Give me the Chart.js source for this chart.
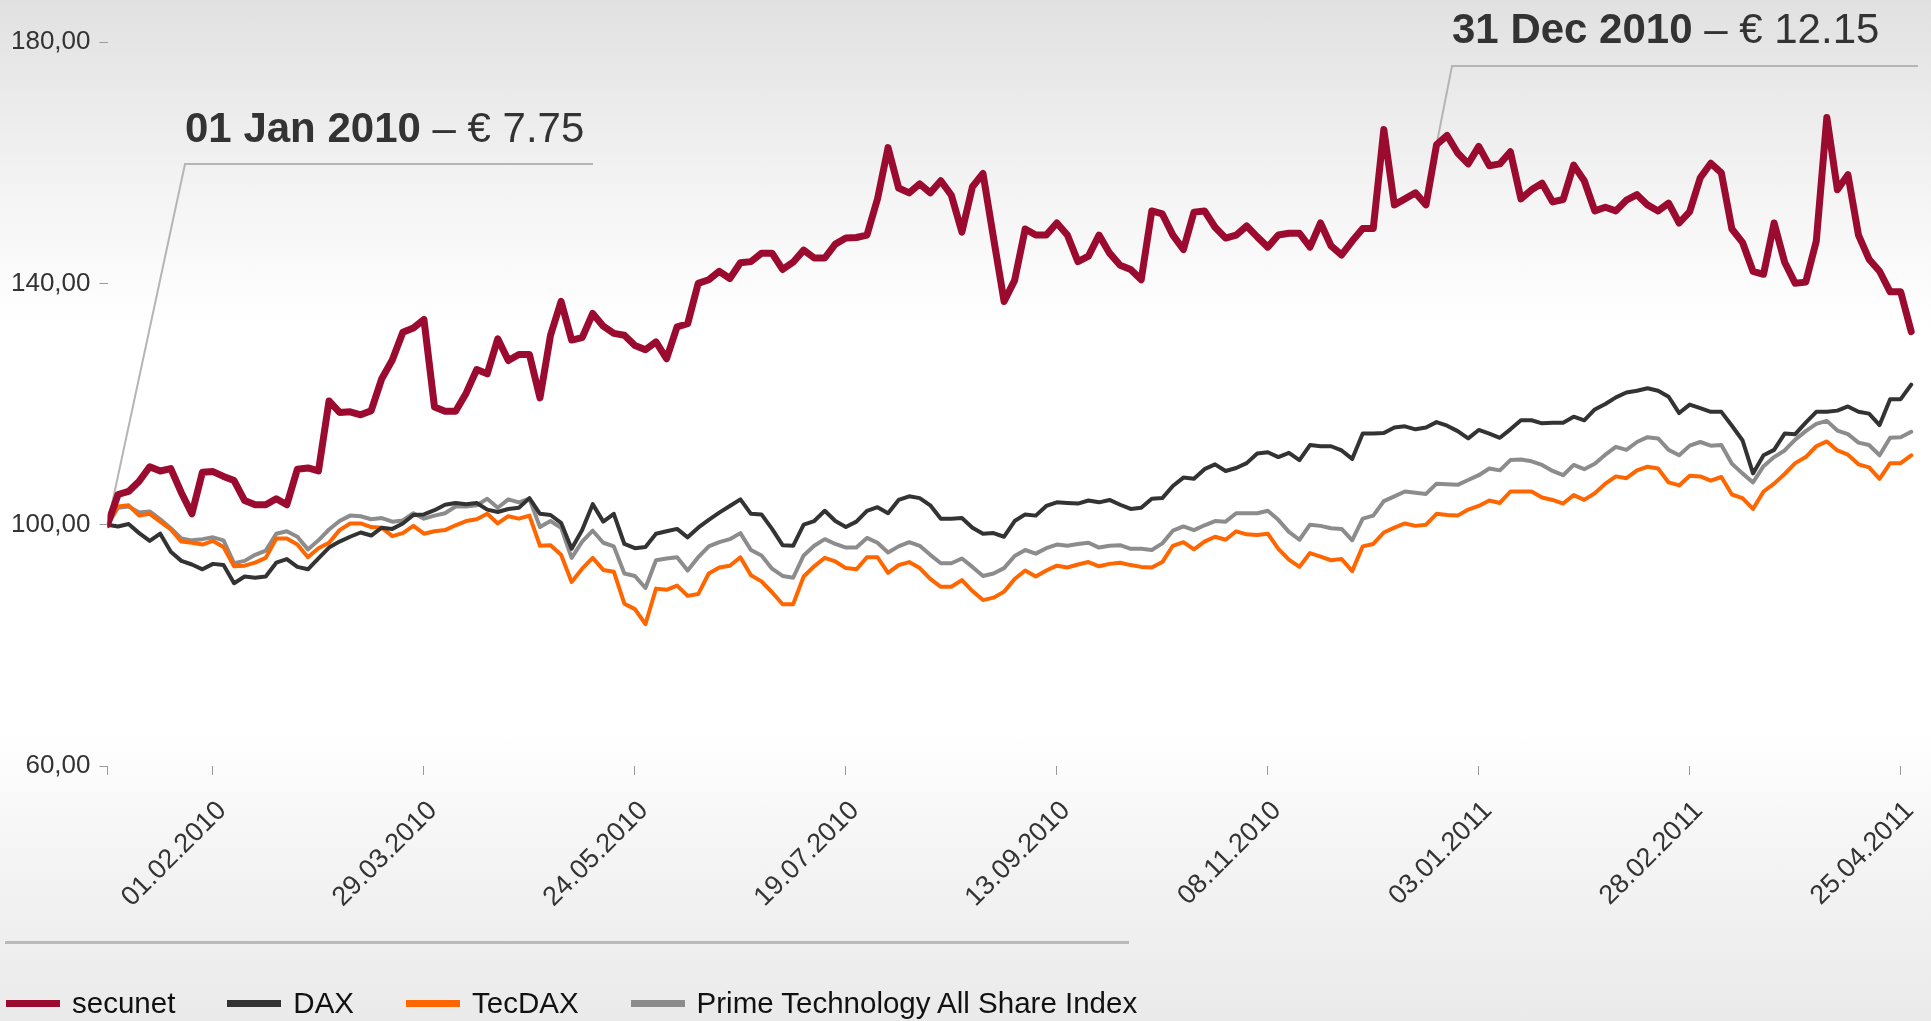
<!DOCTYPE html>
<html>
<head>
<meta charset="utf-8">
<title>secunet vs. DAX / TecDAX / Prime Technology</title>
<script src="https://cdn.jsdelivr.net/npm/chart.js@4.4.1/dist/chart.umd.min.js"></script>
<style>
  html, body { margin: 0; padding: 0; }
  body {
    width: 1931px; height: 1021px; overflow: hidden; position: relative;
    background: linear-gradient(to bottom, #e1e1e1 0%, #e7e7e7 6%, #f5f5f5 20%, #ffffff 32%, #ffffff 72%, #f4f4f4 84%, #eaeaea 100%);
    font-family: "Liberation Sans", Arial, sans-serif;
  }
  #wrap { position: absolute; left: 0; top: 0; width: 1931px; height: 1021px; }
  #rule { position: absolute; left: 5px; top: 941px; width: 1124px; height: 3px; background: #b9b9b9; }
  #legend { position: absolute; left: 6px; top: 983px; height: 40px; display: flex; align-items: center; }
  .item { display: flex; align-items: center; margin-right: 52px; font-size: 29.5px; color: #111; }
  .swatch { width: 54px; height: 7px; margin-right: 12px; }
</style>
</head>
<body>
<div id="wrap"><canvas id="perf-chart"></canvas></div>
<div id="rule"></div>
<div id="legend"></div>
<script>
// trading days counted from 01.01.2010, one value every second trading day
const firstDay = 1;
const dayStep = 2;

const tickDays = [21, 61, 101, 141, 181, 221, 261, 301, 341];
const tickLabels = ['01.02.2010', '29.03.2010', '24.05.2010', '19.07.2010', '13.09.2010',
  '08.11.2010', '03.01.2011', '28.02.2011', '25.04.2011'];

const yTicks = [60, 100, 140, 180];

const seriesNames = ['secunet', 'DAX', 'TecDAX', 'Prime Technology All Share Index'];

const secunet = [
  100, 105.0, 105.5, 107.2, 109.6, 108.9, 109.3, 105.3, 101.8, 108.7,
  108.8, 108.0, 107.3, 104.0, 103.3, 103.3, 104.3, 103.3, 109.2, 109.4,
  108.9, 120.5, 118.6, 118.7, 118.2, 118.9, 124.2, 127.3, 131.9, 132.6,
  134.0, 119.5, 118.8, 118.8, 121.8, 125.7, 125.0, 130.8, 127.2, 128.2,
  128.2, 121.0, 131.4, 137.0, 130.6, 131.0, 135.0, 132.9, 131.7, 131.4,
  129.7, 129.0, 130.3, 127.5, 132.8, 133.3, 140.0, 140.6, 142.0, 140.8,
  143.4, 143.6, 145.0, 145.0, 142.3, 143.5, 145.5, 144.2, 144.2, 146.5,
  147.5, 147.6, 148.0, 154.0, 162.5, 155.8, 155.0, 156.5, 155.0, 157.0,
  154.6, 148.5, 156.0, 158.2, 147.5, 137.0, 140.5, 149.0, 148.0, 148.0,
  150.0, 148.0, 143.6, 144.5, 148.0, 145.0, 143.0, 142.3, 140.6, 152.0,
  151.5, 148.0, 145.6, 151.8, 152.0, 149.3, 147.5, 148.0, 149.5, 147.7,
  146.0, 148.0, 148.3, 148.3, 146.0, 150.0, 146.2, 144.7, 147.0, 149.1,
  149.1, 165.5, 153.0, 154.0, 155.0, 153.0, 163.0, 164.5, 161.6, 159.8,
  162.7, 159.5, 159.8, 161.8, 154.0, 155.5, 156.6, 153.5, 153.9, 159.6,
  157.0, 152.0, 152.6, 152.0, 153.8, 154.7, 153.0, 152.0, 153.3, 150.0,
  151.9, 157.5, 159.9, 158.3, 149.0, 146.8, 142.0, 141.5, 150.0, 143.5,
  140.0, 140.2, 147.0, 167.5, 155.5, 158.0, 148.0, 144.0, 142.0, 138.6,
  138.6, 132.0
];

const dax = [
  100, 99.7, 100.1, 98.6, 97.3, 98.5, 95.5, 94.0, 93.4, 92.6,
  93.5, 93.3, 90.3, 91.4, 91.2, 91.4, 93.7, 94.3, 93.0, 92.6,
  94.4, 96.2, 97.2, 98.0, 98.7, 98.2, 99.5, 99.3, 100.2, 101.6,
  101.7, 102.4, 103.3, 103.6, 103.4, 103.6, 102.5, 102.1, 102.6, 102.8,
  104.4, 101.8, 101.6, 100.3, 96.0, 99.1, 103.4, 100.5, 101.8, 96.8,
  96.1, 96.3, 98.5, 98.9, 99.3, 97.9, 99.5, 100.8, 102.0, 103.1,
  104.2, 101.8, 101.7, 99.3, 96.6, 96.5, 100.0, 100.6, 102.3, 100.6,
  99.6, 100.5, 102.3, 102.9, 101.9, 104.1, 104.7, 104.4, 103.2, 101.0,
  101.0, 101.1, 99.5, 98.5, 98.6, 98.0, 100.6, 101.7, 101.5, 103.1,
  103.7, 103.6, 103.5, 104.0, 103.7, 104.1, 103.3, 102.6, 102.8, 104.3,
  104.4, 106.4, 107.8, 107.6, 109.2, 110.0, 108.9, 109.4, 110.2, 111.8,
  112.0, 111.2, 111.9, 110.7, 113.2, 113.0, 113.0, 112.3, 110.9, 115.1,
  115.1, 115.2, 116.1, 116.3, 115.8, 116.1, 117.0, 116.4, 115.5, 114.3,
  115.7, 115.1, 114.4, 115.8, 117.3, 117.3, 116.8, 116.9, 116.9, 117.9,
  117.3, 119.1, 120.0, 121.1, 121.9, 122.2, 122.6, 122.2, 121.2, 118.5,
  119.9, 119.3, 118.7, 118.7, 116.4, 114.0, 108.5, 111.5, 112.4, 115.1,
  115.0, 116.9, 118.7, 118.7, 118.9, 119.6, 118.7, 118.4, 116.5, 120.8,
  120.8, 123.2
];

const tecdax = [
  100, 103.0, 103.2, 101.5, 101.8, 100.5, 99.2, 97.2, 97.0, 96.7,
  97.3, 96.3, 93.1, 93.2, 93.7, 94.5, 97.7, 97.7, 96.7, 94.6,
  96.1, 97.0, 99.1, 100.2, 100.2, 99.6, 99.5, 98.1, 98.6, 99.8,
  98.5, 98.9, 99.1, 99.9, 100.6, 100.9, 101.8, 100.2, 101.4, 101.0,
  101.5, 96.5, 96.6, 95.0, 90.5, 92.7, 94.5, 92.5, 92.2, 86.9,
  86.0, 83.5, 89.4, 89.2, 89.9, 88.2, 88.5, 91.9, 92.9, 93.2,
  94.6, 91.6, 90.6, 88.8, 86.8, 86.8, 91.4, 93.1, 94.5, 93.9,
  92.8, 92.6, 94.6, 94.6, 92.0, 93.3, 93.8, 92.8, 91.0, 89.7,
  89.7, 90.8, 89.0, 87.5, 87.9, 88.9, 91.0, 92.4, 91.4, 92.4,
  93.2, 92.9, 93.4, 93.8, 93.1, 93.5, 93.7, 93.3, 93.0, 92.9,
  93.8, 96.5, 97.1, 95.9, 97.2, 98.0, 97.5, 98.9, 98.4, 98.3,
  98.5, 96.0, 94.2, 93.0, 95.3, 94.7, 94.1, 94.3, 92.3, 96.4,
  96.8, 98.7, 99.5, 100.2, 99.8, 100.0, 101.8, 101.6, 101.5, 102.5,
  103.1, 104.0, 103.6, 105.5, 105.5, 105.5, 104.5, 104.1, 103.5, 104.9,
  104.1, 105.2, 106.8, 108.0, 107.7, 109.0, 109.6, 109.3, 107.0, 106.5,
  108.1, 108.0, 107.3, 107.9, 105.0, 104.4, 102.6, 105.5, 106.8, 108.4,
  110.2, 111.2, 113.0, 113.8, 112.3, 111.6, 110.0, 109.5, 107.6, 110.2,
  110.2, 111.5
];

const primeTech = [
  100, 102.8, 103.0, 102.0, 102.2, 100.9, 99.4, 97.7, 97.4, 97.6,
  97.9, 97.4, 93.6, 94.0, 95.0, 95.7, 98.5, 98.9, 98.0, 95.9,
  97.4, 99.2, 100.6, 101.5, 101.4, 100.9, 101.1, 100.5, 100.7, 101.9,
  101.0, 101.5, 101.9, 103.0, 103.0, 103.2, 104.3, 102.8, 104.2, 103.7,
  104.3, 99.6, 100.6, 99.5, 94.5, 97.2, 99.0, 97.0, 96.4, 91.9,
  91.5, 89.5, 94.1, 94.4, 94.6, 92.4, 94.6, 96.4, 97.1, 97.6,
  98.6, 95.8, 94.9, 92.7, 91.5, 91.2, 94.9, 96.5, 97.6, 96.8,
  96.2, 96.2, 97.8, 97.0, 95.4, 96.4, 97.1, 96.5, 95.0, 93.6,
  93.6, 94.4, 93.0, 91.5, 91.9, 92.8, 94.8, 95.8, 95.2, 96.1,
  96.7, 96.5, 96.8, 97.0, 96.2, 96.5, 96.6, 96.0, 96.0, 95.8,
  96.9, 99.0, 99.7, 99.1, 99.9, 100.6, 100.5, 101.9, 101.9, 101.9,
  102.3, 100.8, 98.8, 97.5, 100.0, 99.8, 99.4, 99.3, 97.4, 101.0,
  101.5, 103.9, 104.7, 105.5, 105.3, 105.1, 106.8, 106.7, 106.6, 107.4,
  108.2, 109.3, 109.0, 110.7, 110.8, 110.5, 109.9, 108.9, 108.2, 109.9,
  109.2, 110.1, 111.6, 112.9, 112.4, 113.7, 114.5, 114.3, 112.4, 111.5,
  113.1, 113.7, 113.1, 113.2, 110.1, 108.5, 107.0, 109.7, 111.2, 112.3,
  114.1, 115.5, 116.7, 117.2, 115.6, 115.0, 113.6, 113.2, 111.5, 114.4,
  114.5, 115.4
];

// callouts on the secunet line
const calloutDates = ['01 Jan 2010', '31 Dec 2010'];
const calloutPrices = ['7.75', '12.15'];
const calloutDays = [1, 253];

const FONT = '"Liberation Sans", Arial, sans-serif';
Chart.defaults.font.family = FONT;
Chart.defaults.color = '#333';

function toPoints(values) {
  return values.map((v, k) => ({ x: firstDay + k * dayStep, y: v }));
}

const colors = ['#9b0a2f', '#333333', '#ff6600', '#8c8c8c'];
const widths = [7, 4, 4, 4];
const allSeries = [secunet, dax, tecdax, primeTech];

const calloutLayout = [
  { x: 185, textY: 142, lineY: 164, lineEnd: 593 },
  { x: 1452, textY: 43, lineY: 66, lineEnd: 1918 }
];

const calloutPlugin = {
  id: 'callouts',
  beforeDatasetsDraw(chart) {
    const ctx = chart.ctx;
    const pts = chart.getDatasetMeta(0).data;
    ctx.save();
    calloutLayout.forEach((c, n) => {
      const p = pts[(calloutDays[n] - firstDay) / dayStep];
      ctx.strokeStyle = '#b5b5b5';
      ctx.lineWidth = 2;
      ctx.beginPath();
      ctx.moveTo(c.lineEnd, c.lineY);
      ctx.lineTo(c.x, c.lineY);
      ctx.lineTo(p.x, p.y);
      ctx.stroke();

      ctx.fillStyle = '#333';
      ctx.textBaseline = 'alphabetic';
      ctx.textAlign = 'left';
      ctx.font = 'bold 42px ' + FONT;
      ctx.fillText(calloutDates[n], c.x, c.textY);
      const w = ctx.measureText(calloutDates[n]).width;
      ctx.font = '42px ' + FONT;
      ctx.fillText(' \u2013 \u20ac ' + calloutPrices[n], c.x + w, c.textY);
    });
    ctx.restore();
  }
};

const chart = new Chart(document.getElementById('perf-chart'), {
  type: 'line',
  data: {
    datasets: allSeries.map((s, n) => ({
      label: seriesNames[n],
      data: toPoints(s),
      borderColor: colors[n],
      backgroundColor: colors[n],
      borderWidth: widths[n],
      pointRadius: 0,
      tension: 0,
      borderJoinStyle: 'round',
      borderCapStyle: 'round',
      fill: false
    }))
  },
  options: {
    responsive: true,
    maintainAspectRatio: false,
    animation: false,
    layout: { padding: { top: 42, right: 14.5, left: 0, bottom: 0 } },
    plugins: {
      legend: { display: false },
      tooltip: { enabled: false }
    },
    scales: {
      x: {
        type: 'linear',
        min: 1,
        max: 344,
        border: { display: false },
        grid: { drawOnChartArea: false, drawTicks: true, tickLength: 9, color: '#9a9a9a' },
        afterBuildTicks: axis => { axis.ticks = [1].concat(tickDays).map(v => ({ value: v })); },
        afterFit: axis => {
          axis.height = 255;
          axis.paddingLeft = 0;
          axis.paddingRight = 0;
        },
        ticks: {
          autoSkip: false,
          minRotation: 45,
          maxRotation: 45,
          padding: 20,
          labelOffset: 9,
          color: '#333',
          font: { size: 27 },
          callback: v => {
            const k = tickDays.indexOf(v);
            return k >= 0 ? tickLabels[k] : '';
          }
        }
      },
      y: {
        min: 60,
        max: 180,
        border: { display: false },
        grid: { drawOnChartArea: false, drawTicks: true, tickLength: 8, color: '#9a9a9a' },
        afterBuildTicks: axis => { axis.ticks = yTicks.map(v => ({ value: v })); },
        afterFit: axis => { axis.width = 107.5; },
        ticks: {
          padding: 9,
          color: '#333',
          font: { size: 26 },
          callback: v => v.toFixed(2).replace('.', ',')
        }
      }
    }
  },
  plugins: [calloutPlugin]
});

// legend below the separator, built from the datasets
const legendBox = document.getElementById('legend');
chart.data.datasets.forEach(ds => {
  const item = document.createElement('div');
  item.className = 'item';
  const sw = document.createElement('span');
  sw.className = 'swatch';
  sw.style.background = ds.borderColor;
  item.appendChild(sw);
  item.appendChild(document.createTextNode(ds.label));
  legendBox.appendChild(item);
});
</script>
</body>
</html>
